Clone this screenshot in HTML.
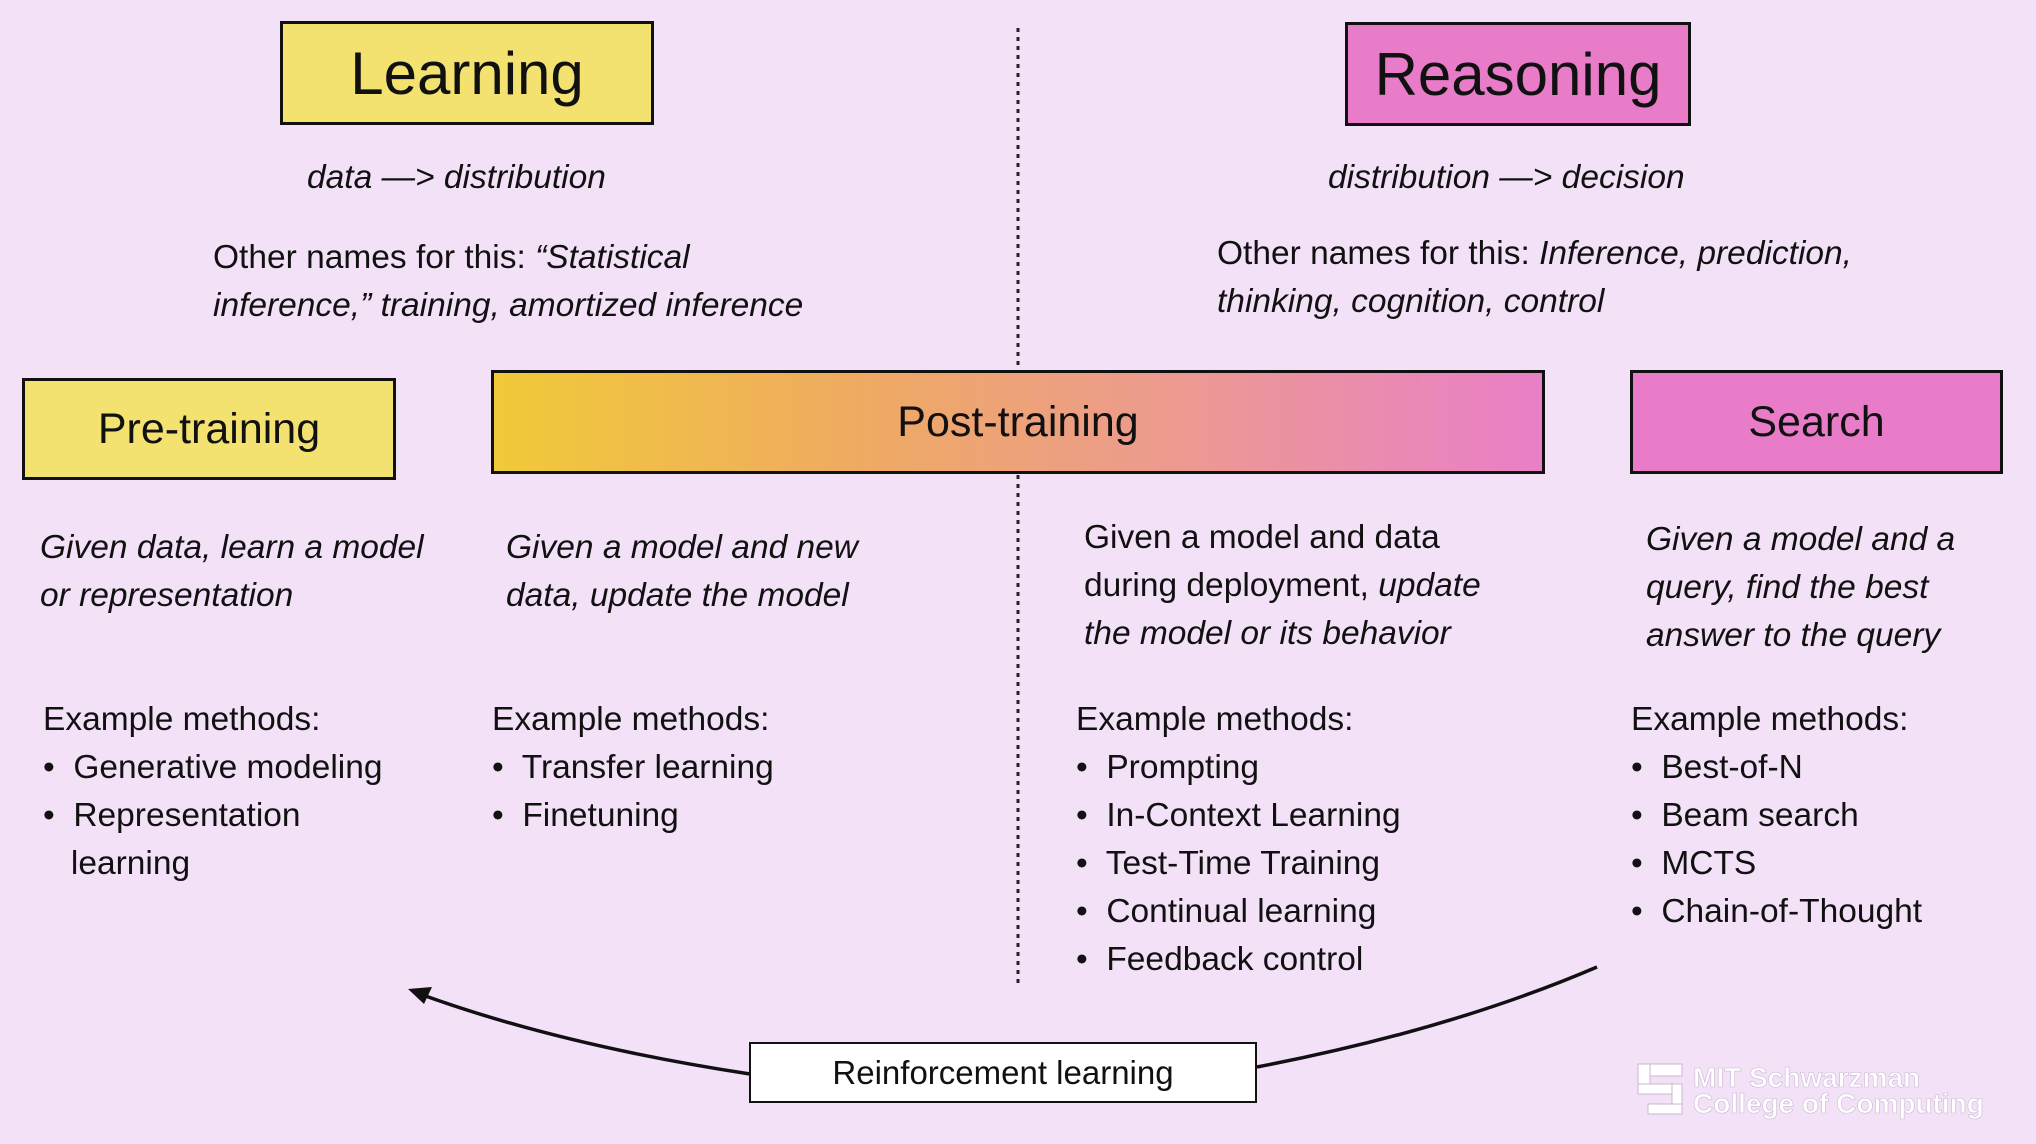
<!DOCTYPE html>
<html><head><meta charset="utf-8"><style>
body{margin:0;width:2036px;height:1144px;background:#f3e1f8;position:relative;overflow:hidden;font-family:"Liberation Sans",sans-serif;color:#111}
.a{position:absolute;white-space:nowrap}
.box{position:absolute;border:3px solid #111;box-sizing:border-box;display:flex;align-items:center;justify-content:center}
.t{font-size:33.5px;line-height:48px}
i{font-style:italic}
</style></head><body>
<svg class="a" style="left:0;top:0" width="2036" height="1144">
<line x1="1018" y1="28" x2="1018" y2="372" stroke="#222" stroke-width="3" stroke-dasharray="4,5"/>
<line x1="1018" y1="475" x2="1018" y2="985" stroke="#222" stroke-width="3" stroke-dasharray="4,5"/>
<path d="M750 1074 Q560 1045 420 994" fill="none" stroke="#111" stroke-width="3.5"/>
<polygon points="408,989 432,987 424,1004" fill="#111"/>
<path d="M1257 1067 Q1450 1030 1597 967" fill="none" stroke="#111" stroke-width="3.5"/>
<g fill="#fff" stroke="#c9b7cf" stroke-width="1">
<rect x="1638" y="1064" width="44" height="12"/><rect x="1638" y="1064" width="12" height="30"/><rect x="1638" y="1084" width="44" height="10"/><rect x="1672" y="1084" width="10" height="30"/><rect x="1648" y="1104" width="34" height="10"/>
</g>
<text x="1693" y="1087" font-family="Liberation Sans" font-weight="bold" font-size="28" fill="#fff" stroke="#cbb9d1" stroke-width="0.6">MIT Schwarzman</text>
<text x="1693" y="1113" font-family="Liberation Sans" font-weight="bold" font-size="28" fill="#fff" stroke="#cbb9d1" stroke-width="0.6">College of Computing</text>
</svg>
<div class="box" style="left:280px;top:21px;width:374px;height:104px;background:#f4e270;font-size:60px">Learning</div>
<div class="box" style="left:1345px;top:22px;width:346px;height:104px;background:#e87cc8;font-size:60px">Reasoning</div>
<div class="a t" style="left:307px;top:154px;font-style:italic">data —&gt; distribution</div>
<div class="a t" style="left:1328px;top:154px;font-style:italic">distribution —&gt; decision</div>
<div class="a t" style="left:213px;top:234px">Other names for this: <i>“Statistical</i><br><i>inference,” training, amortized inference</i></div>
<div class="a t" style="left:1217px;top:230px">Other names for this: <i>Inference, prediction,</i><br><i>thinking, cognition, control</i></div>
<div class="box" style="left:22px;top:378px;width:374px;height:102px;background:#f4e270;font-size:43px">Pre-training</div>
<div class="box" style="left:491px;top:370px;width:1054px;height:104px;background:linear-gradient(90deg,#f0ca38,#efaa62 35%,#ec9a90 65%,#e97fc8);font-size:43px">Post-training</div>
<div class="box" style="left:1630px;top:370px;width:373px;height:104px;background:#e97cc8;font-size:43px">Search</div>
<div class="a t" style="left:40px;top:524px;font-style:italic">Given data, learn a model<br>or representation</div>
<div class="a t" style="left:506px;top:524px;font-style:italic">Given a model and new<br>data, update the model</div>
<div class="a t" style="left:1084px;top:514px">Given a model and data<br>during deployment, <i>update</i><br><i>the model or its behavior</i></div>
<div class="a t" style="left:1646px;top:516px;font-style:italic">Given a model and a<br>query, find the best<br>answer to the query</div>
<div class="a t" style="left:43px;top:696px">Example methods:<br>•&nbsp; Generative modeling<br>•&nbsp; Representation<br>&nbsp;&nbsp;&nbsp;learning</div>
<div class="a t" style="left:492px;top:696px">Example methods:<br>•&nbsp; Transfer learning<br>•&nbsp; Finetuning</div>
<div class="a t" style="left:1076px;top:696px">Example methods:<br>•&nbsp; Prompting<br>•&nbsp; In-Context Learning<br>•&nbsp; Test-Time Training<br>•&nbsp; Continual learning<br>•&nbsp; Feedback control</div>
<div class="a t" style="left:1631px;top:696px">Example methods:<br>•&nbsp; Best-of-N<br>•&nbsp; Beam search<br>•&nbsp; MCTS<br>•&nbsp; Chain-of-Thought</div>
<div class="box" style="left:749px;top:1042px;width:508px;height:61px;background:#fff;font-size:33px;border-width:2.5px">Reinforcement learning</div>
</body></html>
